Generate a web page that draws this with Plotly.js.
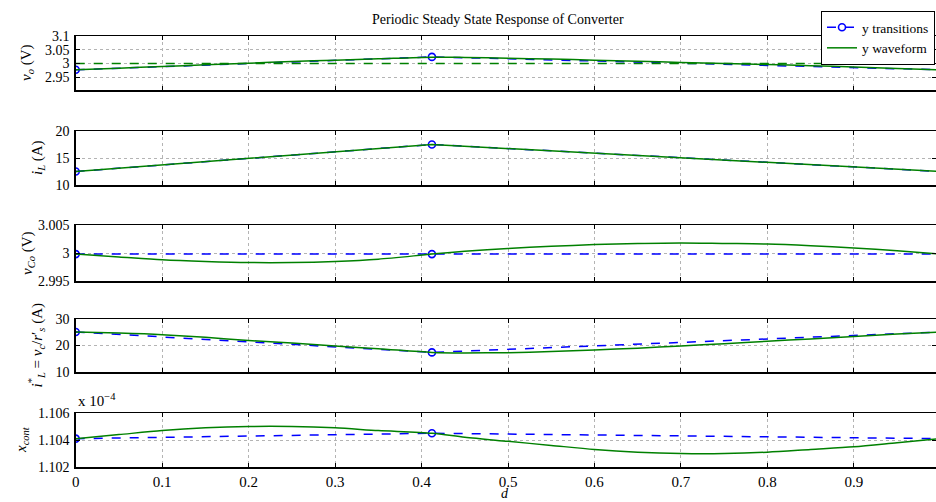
<!DOCTYPE html>
<html>
<head>
<meta charset="utf-8">
<script src="https://cdn.plot.ly/plotly-3.0.1.min.js"></script>
<style>html,body{margin:0;padding:0;background:#fff;}#chart{width:936px;height:502px;}</style>
</head>
<body>
<div id="chart"></div>
<script>
// ---- data ----
const dWave  = [0, 0.05, 0.1, 0.15, 0.2, 0.25, 0.3, 0.35, 0.412, 0.45, 0.5, 0.55, 0.6, 0.65, 0.7, 0.75, 0.8, 0.85, 0.9, 0.95, 1.0];
const dTrans = [0, 0.412, 1.0];
const dRef   = [0, 1.0];

const voTrans  = [2.977, 3.024, 2.977];
const voWave   = [2.977, 2.983, 2.989, 2.995, 3.001, 3.007, 3.012, 3.017, 3.023, 3.022, 3.019, 3.016, 3.012, 3.008, 3.004, 3.000, 2.996, 2.992, 2.987, 2.982, 2.977];
const voRef    = [3.0, 3.0];

const iLTrans  = [12.5, 17.5, 12.5];
const iLWave   = [12.5, 17.5, 12.5];

const vCoTrans = [2.9998, 2.9998, 2.9998];
const vCoWave  = [2.9998, 2.9993, 2.9988, 2.9985, 2.9983, 2.9983, 2.9985, 2.9989, 2.9998, 3.0003, 3.0008, 3.0012, 3.0015, 3.0017, 3.0018, 3.0017, 3.0016, 3.0013, 3.0009, 3.0004, 2.9998];

const iLsTrans = [25.1, 17.4, 25.1];
const iLsWave  = [25.1, 24.7, 24.1, 23.1, 21.9, 20.9, 19.8, 18.8, 17.4, 17.2, 17.3, 17.7, 18.3, 19.0, 19.8, 20.7, 21.6, 22.5, 23.4, 24.3, 25.1];

const xcTrans  = [1.1041, 1.1045, 1.1041];
const xcWave   = [1.1041, 1.1044, 1.1047, 1.1049, 1.1050, 1.1050, 1.1049, 1.1047, 1.1045, 1.1042, 1.1039, 1.1036, 1.1033, 1.1031, 1.1030, 1.1030, 1.1031, 1.1033, 1.1035, 1.1038, 1.1041];

const xTicks = [0, 0.1, 0.2, 0.3, 0.4, 0.5, 0.6, 0.7, 0.8, 0.9];
const yTicks = [
  [2.95, 3, 3.05, 3.1],
  [10, 15, 20],
  [2.995, 3, 3.005],
  [10, 20, 30],
  [1.102, 1.104, 1.106]
];
const yRanges = [[2.9035, 3.1], [10, 20], [2.995, 3.005], [10, 30], [1.102, 1.106]];
const yLabels = [
  '<i>v</i><sub><i>o</i></sub> (V)',
  '<i>i</i><sub><i>L</i></sub> (A)',
  '<i>v</i><sub><i>Co</i></sub> (V)',
  '<i>i</i><sup>*</sup><sub><i>L</i></sub> = <i>v</i><sub><i>c</i></sub>/<i>r</i>′<sub><i>s</i></sub> (A)',
  '<i>x</i><sub><i>cont</i></sub>'
];
const titleText = 'Periodic Steady State Response of Converter';

// ---- styles ----
const BLUE = '#0000ff', GREEN = '#008000';
const FONT = '"Liberation Serif", "Times New Roman", serif';
const W = 936, H = 502;
const pixTop = [36, 131, 225, 319, 413];
const pixBot = [90, 185, 281, 372, 467];
const labelX = [27, 38, 28, 36, 22];
const xDom = [75.7 / W, 1];

const transSets = [voTrans, iLTrans, vCoTrans, iLsTrans, xcTrans];
const waveSets  = [voWave, iLWave, vCoWave, iLsWave, xcWave];
const waveX     = [dWave, dTrans, dWave, dWave, dWave];

const traces = [];
const layout = {
  width: W, height: H,
  margin: {l: 0, r: 0, t: 0, b: 0},
  paper_bgcolor: '#fff', plot_bgcolor: '#fff',
  font: {family: FONT, size: 14, color: '#000'},
  showlegend: true,
  legend: {
    x: 821 / W, y: 1 - 11 / H, xanchor: 'left', yanchor: 'top',
    bgcolor: '#fff', bordercolor: '#000', borderwidth: 1,
    font: {family: FONT, size: 13.5, color: '#000'},
    tracegroupgap: 0, itemwidth: 30
  },
  annotations: []
};

for (let i = 0; i < 5; i++) {
  const n = i === 0 ? '' : String(i + 1);
  const xa = 'x' + n, ya = 'y' + n;
  traces.push({
    x: dTrans, y: transSets[i], xaxis: xa, yaxis: ya,
    type: 'scatter', mode: 'lines+markers', name: 'y transitions',
    showlegend: i === 0, legendgroup: 't',
    line: {color: BLUE, dash: 'dash', width: 1.5},
    marker: {symbol: 'circle-open', size: 7, color: BLUE, line: {width: 1.6, color: BLUE}}
  });
  traces.push({
    x: waveX[i], y: waveSets[i], xaxis: xa, yaxis: ya,
    type: 'scatter', mode: 'lines', name: 'y waveform',
    showlegend: i === 0, legendgroup: 'w',
    line: i === 1 ? {color: GREEN, width: 1.5} : {color: GREEN, width: 1.5, shape: 'spline', smoothing: 0.8}
  });
  if (i === 0) {
    traces.push({
      x: dRef, y: voRef, xaxis: xa, yaxis: ya,
      type: 'scatter', mode: 'lines', showlegend: false, hoverinfo: 'skip',
      line: {color: GREEN, dash: 'dash', width: 1.5}
    });
  }
  layout['xaxis' + n] = {
    domain: xDom, anchor: ya, range: [0, 0.995],
    tickvals: xTicks, ticktext: xTicks.map(v => String(v)),
    showticklabels: i === 4,
    ticks: 'inside', ticklen: 4, tickcolor: '#000', tickwidth: 1,
    showgrid: true, gridcolor: '#b4b4b4', griddash: 'dot', gridwidth: 1,
    showline: true, mirror: 'ticks', linecolor: '#000', linewidth: 1.5,
    zeroline: false, ticklabelstandoff: 0,
    tickfont: {family: FONT, size: 15, color: '#000'}
  };
  layout['yaxis' + n] = {
    domain: [1 - pixBot[i] / H, 1 - pixTop[i] / H], anchor: xa,
    range: yRanges[i], tickvals: yTicks[i],
    ticktext: yTicks[i].map(v => String(v)),
    ticks: 'inside', ticklen: 4, tickcolor: '#000', tickwidth: 1,
    showgrid: true, gridcolor: '#b4b4b4', griddash: 'dot', gridwidth: 1,
    showline: true, mirror: 'ticks', linecolor: '#000', linewidth: 1.5,
    zeroline: false, ticklabelstandoff: 2,
    tickfont: {family: FONT, size: 14, color: '#000'}
  };
  layout.annotations.push({
    text: yLabels[i], xref: 'paper', yref: 'paper',
    x: labelX[i] / W, y: 1 - (pixTop[i] + pixBot[i]) / 2 / H,
    xanchor: 'center', yanchor: 'middle', textangle: -90, showarrow: false,
    font: {family: FONT, size: 15, color: '#000'}
  });
}

layout.annotations.push({
  text: titleText, xref: 'paper', yref: 'paper',
  x: 498 / W, y: 1 - 20 / H, xanchor: 'center', yanchor: 'middle',
  showarrow: false, font: {family: FONT, size: 14, color: '#000'}
});
layout.annotations.push({
  text: 'x 10<sup>−4</sup>', xref: 'paper', yref: 'paper',
  x: 76 / W, y: 1 - 411 / H, xanchor: 'left', yanchor: 'bottom',
  showarrow: false, font: {family: FONT, size: 15, color: '#000'}
});
layout.annotations.push({
  text: '<i>d</i>', xref: 'paper', yref: 'paper',
  x: 505 / W, y: 0, xanchor: 'center', yanchor: 'bottom',
  showarrow: false, borderpad: 0, font: {family: FONT, size: 14, color: '#000'}
});

Plotly.newPlot('chart', traces, layout, {displayModeBar: false, staticPlot: true});
</script>
</body>
</html>
